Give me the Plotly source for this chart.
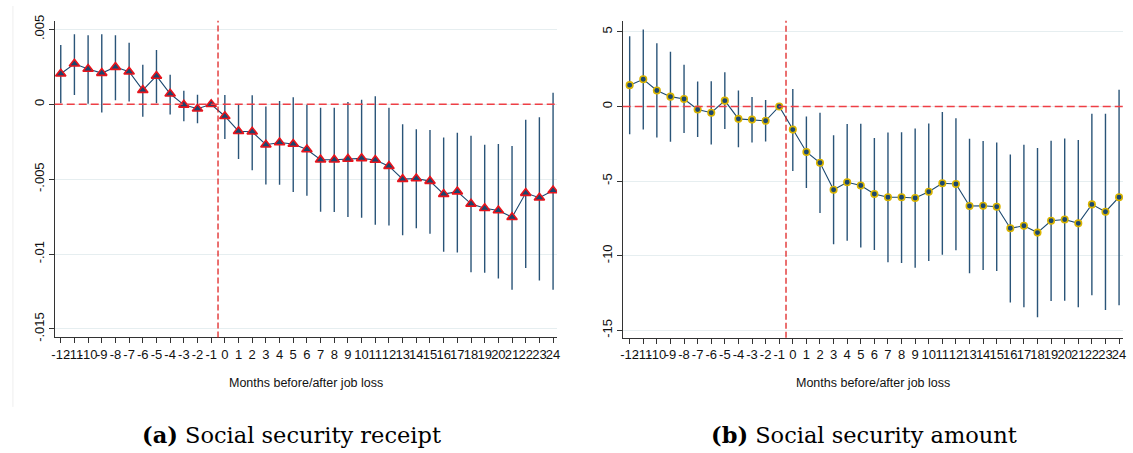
import plotly.graph_objects as go

# months relative to job loss
months = list(range(-12, 25))

# (a) Social security receipt
receipt = [0.00204, 0.0027, 0.00235, 0.00208, 0.00248, 0.00217, 0.00094, 0.00189, 0.0007,
           -0.00004, -0.0003, 0.0,
           -0.0008, -0.0018, -0.00184, -0.0027, -0.00255, -0.00265, -0.00302, -0.0037,
           -0.0037, -0.00365, -0.00361, -0.00372, -0.00413, -0.005, -0.00496, -0.00513,
           -0.006, -0.00583, -0.00665, -0.00694, -0.00709, -0.00754, -0.00593, -0.00624, -0.00576]
receipt_hi = [0.00395, 0.00467, 0.0046, 0.00467, 0.0046, 0.0041, 0.00263, 0.00362, 0.00197,
              0.0009, 0.00064, 0.0,
              0.00062, 0.0, 0.0006, -0.00015, 0.00022, 0.00046, -0.00004, -0.00024,
              -0.00024, 0.00015, 0.0003, 0.00054, -0.00024, -0.00133, -0.00167, -0.00172,
              -0.00222, -0.00191, -0.00211, -0.0027, -0.00265, -0.00278, -0.00104, -0.00087, 0.00076]
receipt_lo = [0.00007, 0.00061, 0.00004, -0.00055, 0.00026, 0.00018, -0.00083, 0.00007, -0.00068,
              -0.00114, -0.00127, 0.0,
              -0.00232, -0.00365, -0.00441, -0.00535, -0.00538, -0.00585, -0.00611, -0.00717,
              -0.0072, -0.00752, -0.00757, -0.00804, -0.00809, -0.00874, -0.00828, -0.00865,
              -0.00985, -0.0099, -0.01122, -0.01124, -0.01163, -0.01239, -0.01093, -0.01176, -0.01239]

# (b) Social security amount
amount = [1.43, 1.82, 1.07, 0.66, 0.5, -0.2, -0.42, 0.39, -0.83, -0.88, -0.96, 0.0,
          -1.55, -3.05, -3.77, -5.58, -5.08, -5.29, -5.86, -6.08, -6.08, -6.13, -5.71,
          -5.14, -5.19, -6.67, -6.65, -6.72, -8.16, -7.99, -8.45, -7.66, -7.57, -7.83,
          -6.56, -7.05, -6.08]
amount_hi = [4.71, 5.15, 4.23, 3.66, 2.79, 1.67, 1.69, 2.3, 1.07, 0.64, 0.44, 0.0,
             1.17, -0.68, -0.42, -1.93, -1.18, -1.16, -2.12, -1.75, -1.73, -1.47, -1.14,
             -0.37, -0.79, -2.17, -2.32, -2.41, -3.22, -2.56, -2.78, -2.3, -2.14, -2.25,
             -0.48, -0.48, 1.12]
amount_lo = [-1.86, -1.54, -2.08, -2.37, -1.78, -2.04, -2.54, -1.51, -2.74, -2.41, -2.35, 0.0,
             -4.32, -5.47, -7.13, -9.23, -8.99, -9.45, -9.61, -10.44, -10.48, -10.81, -10.35,
             -9.93, -9.63, -11.18, -10.96, -11.03, -13.13, -13.45, -14.13, -13.04, -13.02,
             -13.45, -12.65, -13.63, -13.32]

NAVY = "#1a476f"
BAR = "#2a5478"

fig = go.Figure()


def add_panel(y, lo, hi, xa, ya, symbol, edge, size):
    fig.add_trace(go.Scatter(
        x=months, y=y, xaxis=xa, yaxis=ya, mode="lines+markers",
        line=dict(color=NAVY, width=1.1),
        marker=dict(symbol=symbol, size=size, color=NAVY, line=dict(color=edge, width=1.6)),
        error_y=dict(type="data", symmetric=False,
                     array=[h - v for h, v in zip(hi, y)],
                     arrayminus=[v - l for v, l in zip(y, lo)],
                     width=0, thickness=1.4, color=BAR),
        showlegend=False, hoverinfo="x+y"))


add_panel(receipt, receipt_lo, receipt_hi, "x", "y", "triangle-up", "#e8141c", 9)
add_panel(amount, amount_lo, amount_hi, "x2", "y2", "circle", "#d9b400", 6.5)

xaxis_common = dict(
    tickmode="array", tickvals=months, ticktext=[str(m) for m in months], tickangle=0,
    showgrid=False, zeroline=False, showline=True, linecolor="#333333", linewidth=1,
    ticks="outside", ticklen=5, tickcolor="#333333",
    tickfont=dict(family="Liberation Sans, Arial", size=13, color="#111111"),
)
yaxis_common = dict(
    tickangle=-90, showgrid=True, gridcolor="#e6eef0", gridwidth=1, zeroline=False,
    showline=True, linecolor="#333333", linewidth=1,
    ticks="outside", ticklen=5, tickcolor="#333333",
    tickfont=dict(family="Liberation Sans, Arial", size=13, color="#111111"),
)

fig.update_layout(
    width=1133, height=453,
    margin=dict(l=0, r=0, t=0, b=0),
    paper_bgcolor="white", plot_bgcolor="white",
    xaxis=dict(xaxis_common, domain=[0.0459, 0.4916], range=[-12.44, 24.29], anchor="y"),
    yaxis=dict(yaxis_common, domain=[0.2517, 0.9669], range=[-0.01557, 0.00558], anchor="x",
               tickvals=[-0.015, -0.01, -0.005, 0, 0.005],
               ticktext=["-.015", "-.01", "-.005", "0", ".005"]),
    xaxis2=dict(xaxis_common, domain=[0.5499, 0.9938], range=[-12.51, 24.29], anchor="y2"),
    yaxis2=dict(yaxis_common, domain=[0.2510, 0.9669], range=[-15.5, 5.75], anchor="x2",
                tickvals=[-15, -10, -5, 0, 5], ticktext=["-15", "-10", "-5", "0", "5"]),
)

# reference lines: zero effect and job loss month
for xa, ya in [("x", "y"), ("x2", "y2")]:
    fig.add_shape(type="line", xref=xa + " domain", yref=ya, x0=0, x1=1, y0=0, y1=0,
                  line=dict(color="#ee3f45", width=1.5, dash="8px,4px"), layer="above")
    fig.add_shape(type="line", xref=xa, yref=ya + " domain", x0=-0.5, x1=-0.5, y0=0, y1=1,
                  line=dict(color="#dd1111", width=1.2, dash="6px,3px"), layer="above")

# faint border of the left panel image
fig.add_shape(type="line", xref="paper", yref="paper", x0=0.0088, x1=0.0088, y0=0.095, y1=1,
              line=dict(color="#eeeeee", width=1))

# axis titles
for xc in [0.2688, 0.7718]:
    fig.add_annotation(x=xc, y=0.1495, xref="paper", yref="paper", showarrow=False,
                       xanchor="center", yanchor="middle",
                       text="Months before/after job loss",
                       font=dict(family="Liberation Sans, Arial", size=12.5, color="#111111"))

# sub-figure captions
fig.add_annotation(x=0.2564, y=0.032, xref="paper", yref="paper", showarrow=False,
                   xanchor="center", yanchor="middle",
                   text="<b>(a)</b> Social security receipt",
                   font=dict(family="DejaVu Serif, serif", size=22.5, color="black"))
fig.add_annotation(x=0.7643, y=0.032, xref="paper", yref="paper", showarrow=False,
                   xanchor="center", yanchor="middle",
                   text="<b>(b)</b> Social security amount",
                   font=dict(family="DejaVu Serif, serif", size=22.5, color="black"))

fig.write_html("out.html", config={"displayModeBar": False},
               post_script="document.body.style.margin='0';")
